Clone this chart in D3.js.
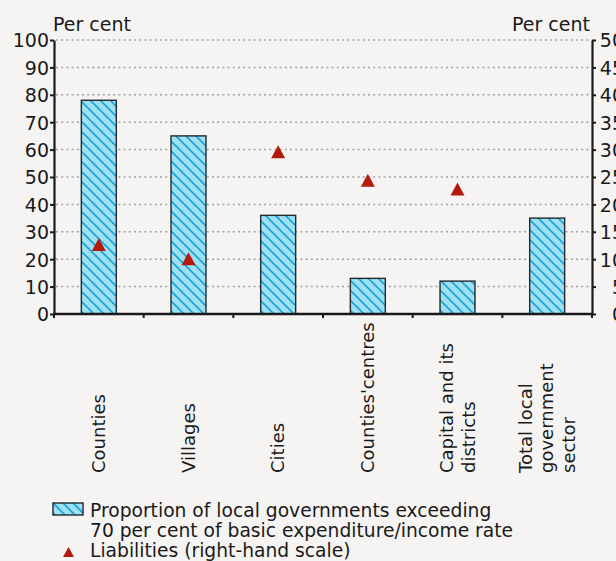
<!DOCTYPE html>
<html>
<head>
<meta charset="utf-8">
<script src="https://cdn.jsdelivr.net/npm/d3@7/dist/d3.min.js"></script>
<style>
  html, body { margin: 0; padding: 0; background: #f5f4f2; }
  svg { display: block; font-family: "DejaVu Sans", sans-serif; }
</style>
</head>
<body>
<svg id="chart" width="616" height="561"></svg>
<script>
// ---- data ----
const categories = [
  ["Counties"],
  ["Villages"],
  ["Cities"],
  ["Counties'centres"],
  ["Capital and its", "districts"],
  ["Total local", "government", "sector"]
];
const proportionValues = [78, 65, 36, 13, 12, 35];          // left-hand scale
const liabilitiesValues = [12.7, 10.1, 29.6, 24.4, 22.8, null]; // right-hand scale
const leftTicks = [0, 10, 20, 30, 40, 50, 60, 70, 80, 90, 100];
const rightTicks = [0, 5, 10, 15, 20, 25, 30, 35, 40, 45, 50];
const legendLabels = [
  ["Proportion of local governments exceeding", "70 per cent of basic expenditure/income rate"],
  ["Liabilities (right-hand scale)"]
];
const axisTitle = "Per cent";

// ---- layout ----
const svg = d3.select("#chart");
const plotL = 54, plotR = 592, plotT = 40, plotB = 314;
const ink = "#1a1a1a";

const keys = d3.range(categories.length);
const x = d3.scaleBand().domain(keys).range([plotL, plotR]).paddingInner(0.61).paddingOuter(0.305);
const yL = d3.scaleLinear().domain([0, 100]).range([plotB, plotT]);
const yR = d3.scaleLinear().domain([0, 50]).range([plotB, plotT]);

// hatch pattern
const defs = svg.append("defs");
const pat = defs.append("pattern").attr("id", "hatch")
  .attr("patternUnits", "userSpaceOnUse").attr("width", 10).attr("height", 10);
pat.append("rect").attr("width", 10).attr("height", 10).attr("fill", "#9fe0f2");
pat.append("path").attr("d", "M-1,-1 L11,11 M-6,4 L6,16 M4,-6 L16,6")
  .attr("stroke", "#19a4d8").attr("stroke-width", 1.6);

// gridlines
svg.append("g").selectAll("line").data(leftTicks.filter(d => d > 0)).join("line")
  .attr("x1", plotL + 2).attr("x2", plotR - 2)
  .attr("y1", d => yL(d)).attr("y2", d => yL(d))
  .attr("stroke", "#a0a0a0").attr("stroke-width", 1.5).attr("stroke-dasharray", "2,3.2");

// bars
svg.append("g").selectAll("rect").data(proportionValues).join("rect")
  .attr("x", (d, i) => x(i)).attr("width", x.bandwidth())
  .attr("y", d => yL(d)).attr("height", d => yL(0) - yL(d))
  .attr("fill", "url(#hatch)").attr("stroke", "#1f2a2e").attr("stroke-width", 1.4);

// triangle markers
function tri(w, h) {
  return `M0,${-h / 2} L${w / 2},${h / 2} L${-w / 2},${h / 2} Z`;
}
svg.append("g").selectAll("path")
  .data(liabilitiesValues.map((v, i) => ({ v, i })).filter(d => d.v != null))
  .join("path")
  .attr("transform", d => `translate(${x(d.i) + x.bandwidth() / 2},${yR(d.v)})`)
  .attr("d", tri(14, 13)).attr("fill", "#b3190c");

// axes
const axL = d3.axisLeft(yL).tickValues(leftTicks).tickSize(4).tickSizeOuter(0).tickPadding(2);
const gL = svg.append("g").attr("transform", `translate(${plotL},0)`).call(axL);
const axR = d3.axisRight(yR).tickValues(rightTicks).tickSize(4).tickSizeOuter(0).tickPadding(2);
const gR = svg.append("g").attr("transform", `translate(${plotR},0)`).call(axR);
[gL, gR].forEach(g => {
  g.select(".domain").attr("stroke", ink).attr("stroke-width", 2.2);
  g.selectAll(".tick line").attr("stroke", ink).attr("stroke-width", 2);
  g.selectAll(".tick text").attr("fill", ink).attr("font-size", 19)
    .attr("font-family", "DejaVu Sans");
});
gL.selectAll(".tick text").attr("x", -5).attr("dy", "0.36em");
gR.selectAll(".tick text").attr("text-anchor", "end").attr("x", 32).attr("dy", "0.36em");

// bottom axis with ticks on band boundaries
const boundaries = d3.range(categories.length + 1).map(k => plotL + k * x.step());
svg.append("line").attr("x1", plotL - 1).attr("x2", plotR + 1).attr("y1", plotB).attr("y2", plotB)
  .attr("stroke", ink).attr("stroke-width", 2.4);
svg.append("g").selectAll("line").data(boundaries).join("line")
  .attr("x1", d => d).attr("x2", d => d).attr("y1", plotB).attr("y2", plotB + 4)
  .attr("stroke", ink).attr("stroke-width", 2);

// category labels (rotated)
const lineStep = 21.5;
const catG = svg.append("g").selectAll("text").data(categories).join("text")
  .attr("transform", (d, i) => `translate(${x(i) + x.bandwidth() / 2},473) rotate(-90)`)
  .attr("font-size", 18).attr("fill", ink).attr("text-anchor", "start");
catG.each(function (lines) {
  const t = d3.select(this);
  lines.forEach((ln, j) => {
    t.append("tspan").attr("x", 0)
      .attr("y", (j - (lines.length - 1) / 2) * lineStep)
      .attr("dy", "0.35em").text(ln);
  });
});

// axis titles
svg.append("text").attr("x", 53).attr("y", 31).attr("font-size", 19).attr("fill", ink).text(axisTitle);
svg.append("text").attr("x", 590).attr("y", 31).attr("font-size", 19).attr("fill", ink)
  .attr("text-anchor", "end").text(axisTitle);

// legend
const lg = svg.append("g");
lg.append("rect").attr("x", 53).attr("y", 503).attr("width", 30).attr("height", 12)
  .attr("fill", "url(#hatch)").attr("stroke", "#1f2a2e").attr("stroke-width", 1.4);
lg.append("path").attr("transform", "translate(68.5,552)").attr("d", tri(11, 10)).attr("fill", "#b3190c");
const legText = lg.append("text").attr("font-size", 18.7).attr("fill", ink);
const legLines = legendLabels.flat();
legLines.forEach((ln, j) => {
  legText.append("tspan").attr("x", 90).attr("y", 517 + j * 20).text(ln);
});
</script>
</body>
</html>
